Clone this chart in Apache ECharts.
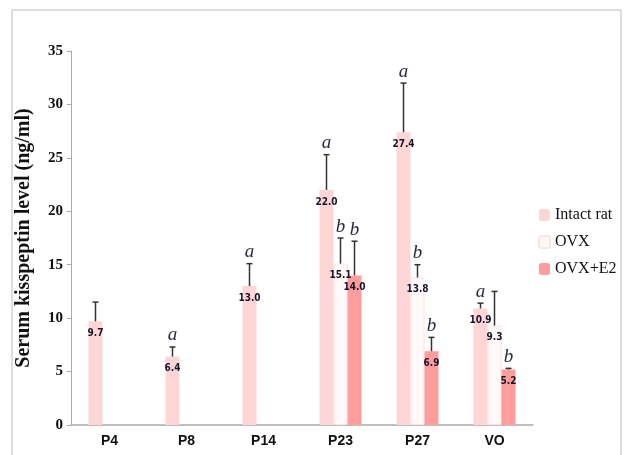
<!DOCTYPE html>
<html><head><meta charset="utf-8">
<script src="https://cdn.jsdelivr.net/npm/echarts@6/dist/echarts.min.js"></script>
<style>html,body{margin:0;padding:0;background:#fff}#c{width:626px;height:455px}</style>
</head><body><div id="c"></div>
<script>
var categories = ['P4','P8','P14','P23','P27','VO'];
var intactVals = [9.7, 6.4, 13.0, 22.0, 27.4, 10.9];
var ovxVals    = [null, null, null, 15.1, 13.8, 9.3];
var e2Vals     = [null, null, null, 14.0, 6.9, 5.2];
var intactErrTop = [11.5, 7.3, 15.1, 25.3, 32.0, 11.4];
var ovxErrTop    = [null, null, null, 17.5, 15.0, 12.5];
var e2ErrTop     = [null, null, null, 17.2, 8.2, 5.3];
var intactLetters = ['', 'a', 'a', 'a', 'a', 'a'];
var ovxLetters    = ['', '', '', 'b', 'b', ''];
var e2Letters     = ['', '', '', 'b', 'b', 'b'];
var yTicks = [0, 5, 10, 15, 20, 25, 30, 35];

var BW = 14;
function errSeries(vals, tops, letters, offset) {
  var data = [];
  for (var i = 0; i < vals.length; i++) {
    if (vals[i] != null) data.push([i, vals[i], tops[i], letters[i]]);
  }
  return {
    type: 'custom', silent: true, z: 5,
    data: data,
    renderItem: function (params, api) {
      var p0 = api.coord([api.value(0), api.value(1)]);
      var p1 = api.coord([api.value(0), api.value(2)]);
      var x = p0[0] + offset;
      var children = [
        {type: 'line', shape: {x1: x, y1: p0[1], x2: x, y2: p1[1]}, style: {stroke: '#333', lineWidth: 1.5}},
        {type: 'line', shape: {x1: x - 3, y1: p1[1], x2: x + 3, y2: p1[1]}, style: {stroke: '#333', lineWidth: 1.5}}
      ];
      var letter = data[params.dataIndex][3];
      if (letter) {
        children.push({type: 'text', style: {text: letter, x: x, y: p1[1] - 2, align: 'center', verticalAlign: 'bottom',
          font: 'italic 19px "Liberation Serif"', fill: '#2a2a3a'}});
      }
      return {type: 'group', children: children};
    }
  };
}

var valueLabel = {
  show: true, position: 'insideTop', distance: 7,
  formatter: function (p) { return p.value == null ? '' : Number(p.value).toFixed(1); },
  fontSize: 10, fontWeight: 'bold', fontFamily: '"DejaVu Sans Condensed"', color: '#15152a'
};

var chart = echarts.init(document.getElementById('c'), null, {renderer: 'canvas'});
chart.setOption({
  animation: false,
  backgroundColor: '#fff',
  graphic: [
    {type: 'polyline', shape: {points: [[12, 460], [12, 10], [621, 10], [621, 460]]}, style: {stroke: '#bbb', fill: null, lineWidth: 1}}
  ],
  grid: {left: 71, right: 93, top: 51, bottom: 30},
  legend: {
    orient: 'vertical', left: 533, top: 202, itemGap: 11, itemWidth: 11, itemHeight: 12,
    textStyle: {fontFamily: '"Liberation Serif"', fontSize: 16, color: '#111'},
    data: ['Intact rat', 'OVX', 'OVX+E2']
  },
  xAxis: {
    type: 'category', data: categories,
    axisLine: {lineStyle: {color: '#aaa', width: 1.5}},
    axisTick: {show: false},
    axisLabel: {fontFamily: '"Liberation Sans"', fontWeight: 'bold', fontSize: 14, color: '#111', margin: 9}
  },
  yAxis: {
    type: 'value', min: 0, max: 35, interval: 5,
    name: 'Serum kisspeptin level (ng/ml)', nameLocation: 'middle', nameGap: 37,
    nameTextStyle: {fontFamily: '"Liberation Serif"', fontWeight: 'bold', fontSize: 20, color: '#111'},
    axisLine: {show: true, lineStyle: {color: '#aaa', width: 1}},
    axisTick: {show: true, length: 4, lineStyle: {color: '#aaa'}},
    splitLine: {show: false},
    axisLabel: {fontFamily: '"Liberation Serif"', fontWeight: 'bold', fontSize: 15, color: '#111', margin: 8,
      formatter: function (v) { return yTicks.indexOf(v) >= 0 ? String(v) : ''; }}
  },
  series: [
    {name: 'Intact rat', type: 'bar', data: intactVals, barWidth: BW, barGap: '0%',
     itemStyle: {color: '#ffd6d6'}, label: valueLabel},
    {name: 'OVX', type: 'bar', data: ovxVals, barWidth: BW, barGap: '0%',
     itemStyle: {color: '#fff9f9', borderColor: '#ffe2e2', borderWidth: 1}, label: valueLabel},
    {name: 'OVX+E2', type: 'bar', data: e2Vals, barWidth: BW, barGap: '0%',
     itemStyle: {color: '#ff9c9c'}, label: valueLabel},
    errSeries(intactVals, intactErrTop, intactLetters, -BW),
    errSeries(ovxVals, ovxErrTop, ovxLetters, 0),
    errSeries(e2Vals, e2ErrTop, e2Letters, BW)
  ]
});
</script></body></html>
